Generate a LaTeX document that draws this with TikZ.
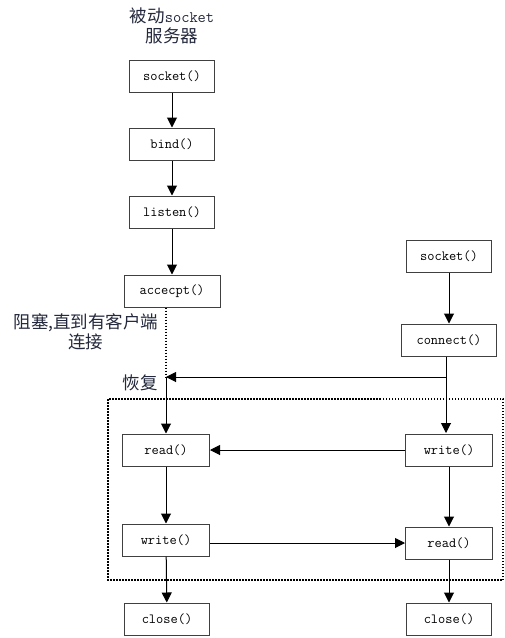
\documentclass[tikz,border=0pt]{standalone}
\usepackage{fontspec}
\newfontfamily\cjk{Noto Sans CJK SC}
\usepackage{tikz}
\usetikzlibrary{arrows.meta,positioning}
\definecolor{labelblue}{RGB}{35,40,60}

\begin{document}
\begin{tikzpicture}[>={Triangle[length=10pt,width=10pt]},x=1pt,y=-1pt,
    line width=1pt,
    fn/.style={draw=black!75,minimum width=85pt,minimum height=32pt,inner sep=0pt,
      font=\ttfamily\fontsize{14}{16}\selectfont},
    note/.style={text=labelblue,align=center,font=\cjk\fontsize{17.5}{20}\selectfont},
    dots/.style={dash pattern=on 1.5pt off 1.5pt,line width=1.2pt}]
  \useasboundingbox (0,0) rectangle (505,638);

  % server side
  \node[note] (title) at (172,26) {被动{\ttfamily\fontsize{16}{20}\selectfont socket}\\服务器};
  \node[fn] (socketS) at (172,76) {socket()};
  \node[fn] (bindS)   at (172,144) {bind()};
  \node[fn] (listenS) at (172,212) {listen()};
  \node[fn,minimum width=96pt] (acceptS) at (172,291) {accecpt()};
  \node[fn,minimum width=87pt] (readS)  at (166,450) {read()};
  \node[fn,minimum width=87pt] (writeS) at (166,540) {write()};
  \node[fn] (closeS)  at (167,619) {close()};

  % client side
  \node[fn] (socketC) at (449,256) {socket()};
  \node[fn,minimum width=95pt] (connectC) at (449,340) {connect()};
  \node[fn,minimum width=87pt] (writeC) at (449,450) {write()};
  \node[fn,minimum width=87pt] (readC)  at (449,543) {read()};
  \node[fn] (closeC)  at (449,619) {close()};

  \node[note] (block)  at (86,332) {阻塞,直到有客户端\\连接};
  \node[note] (resumeL) at (140,383) {恢复};
  \coordinate (resume) at (166,377);

  \draw[dots] (108,399) rectangle (503,580);

  \path[->] (socketS) edge (bindS)
            (bindS)   edge (listenS)
            (listenS) edge (acceptS)
            (resume)  edge (readS)
            (readS)   edge (writeS)
            (writeS)  edge (closeS)
            (socketC) edge (connectC)
            (writeC)  edge (readC)
            (readC)   edge (closeC)
            (writeC)  edge (readS)
            (writeS.east |- readC) edge (readC.west)
            (connectC.south -| 446,0) edge (446,433)
            (446,377) edge (resume);
  \draw[dots] (readS |- acceptS.south) -- (resume);
\end{tikzpicture}
\end{document}
